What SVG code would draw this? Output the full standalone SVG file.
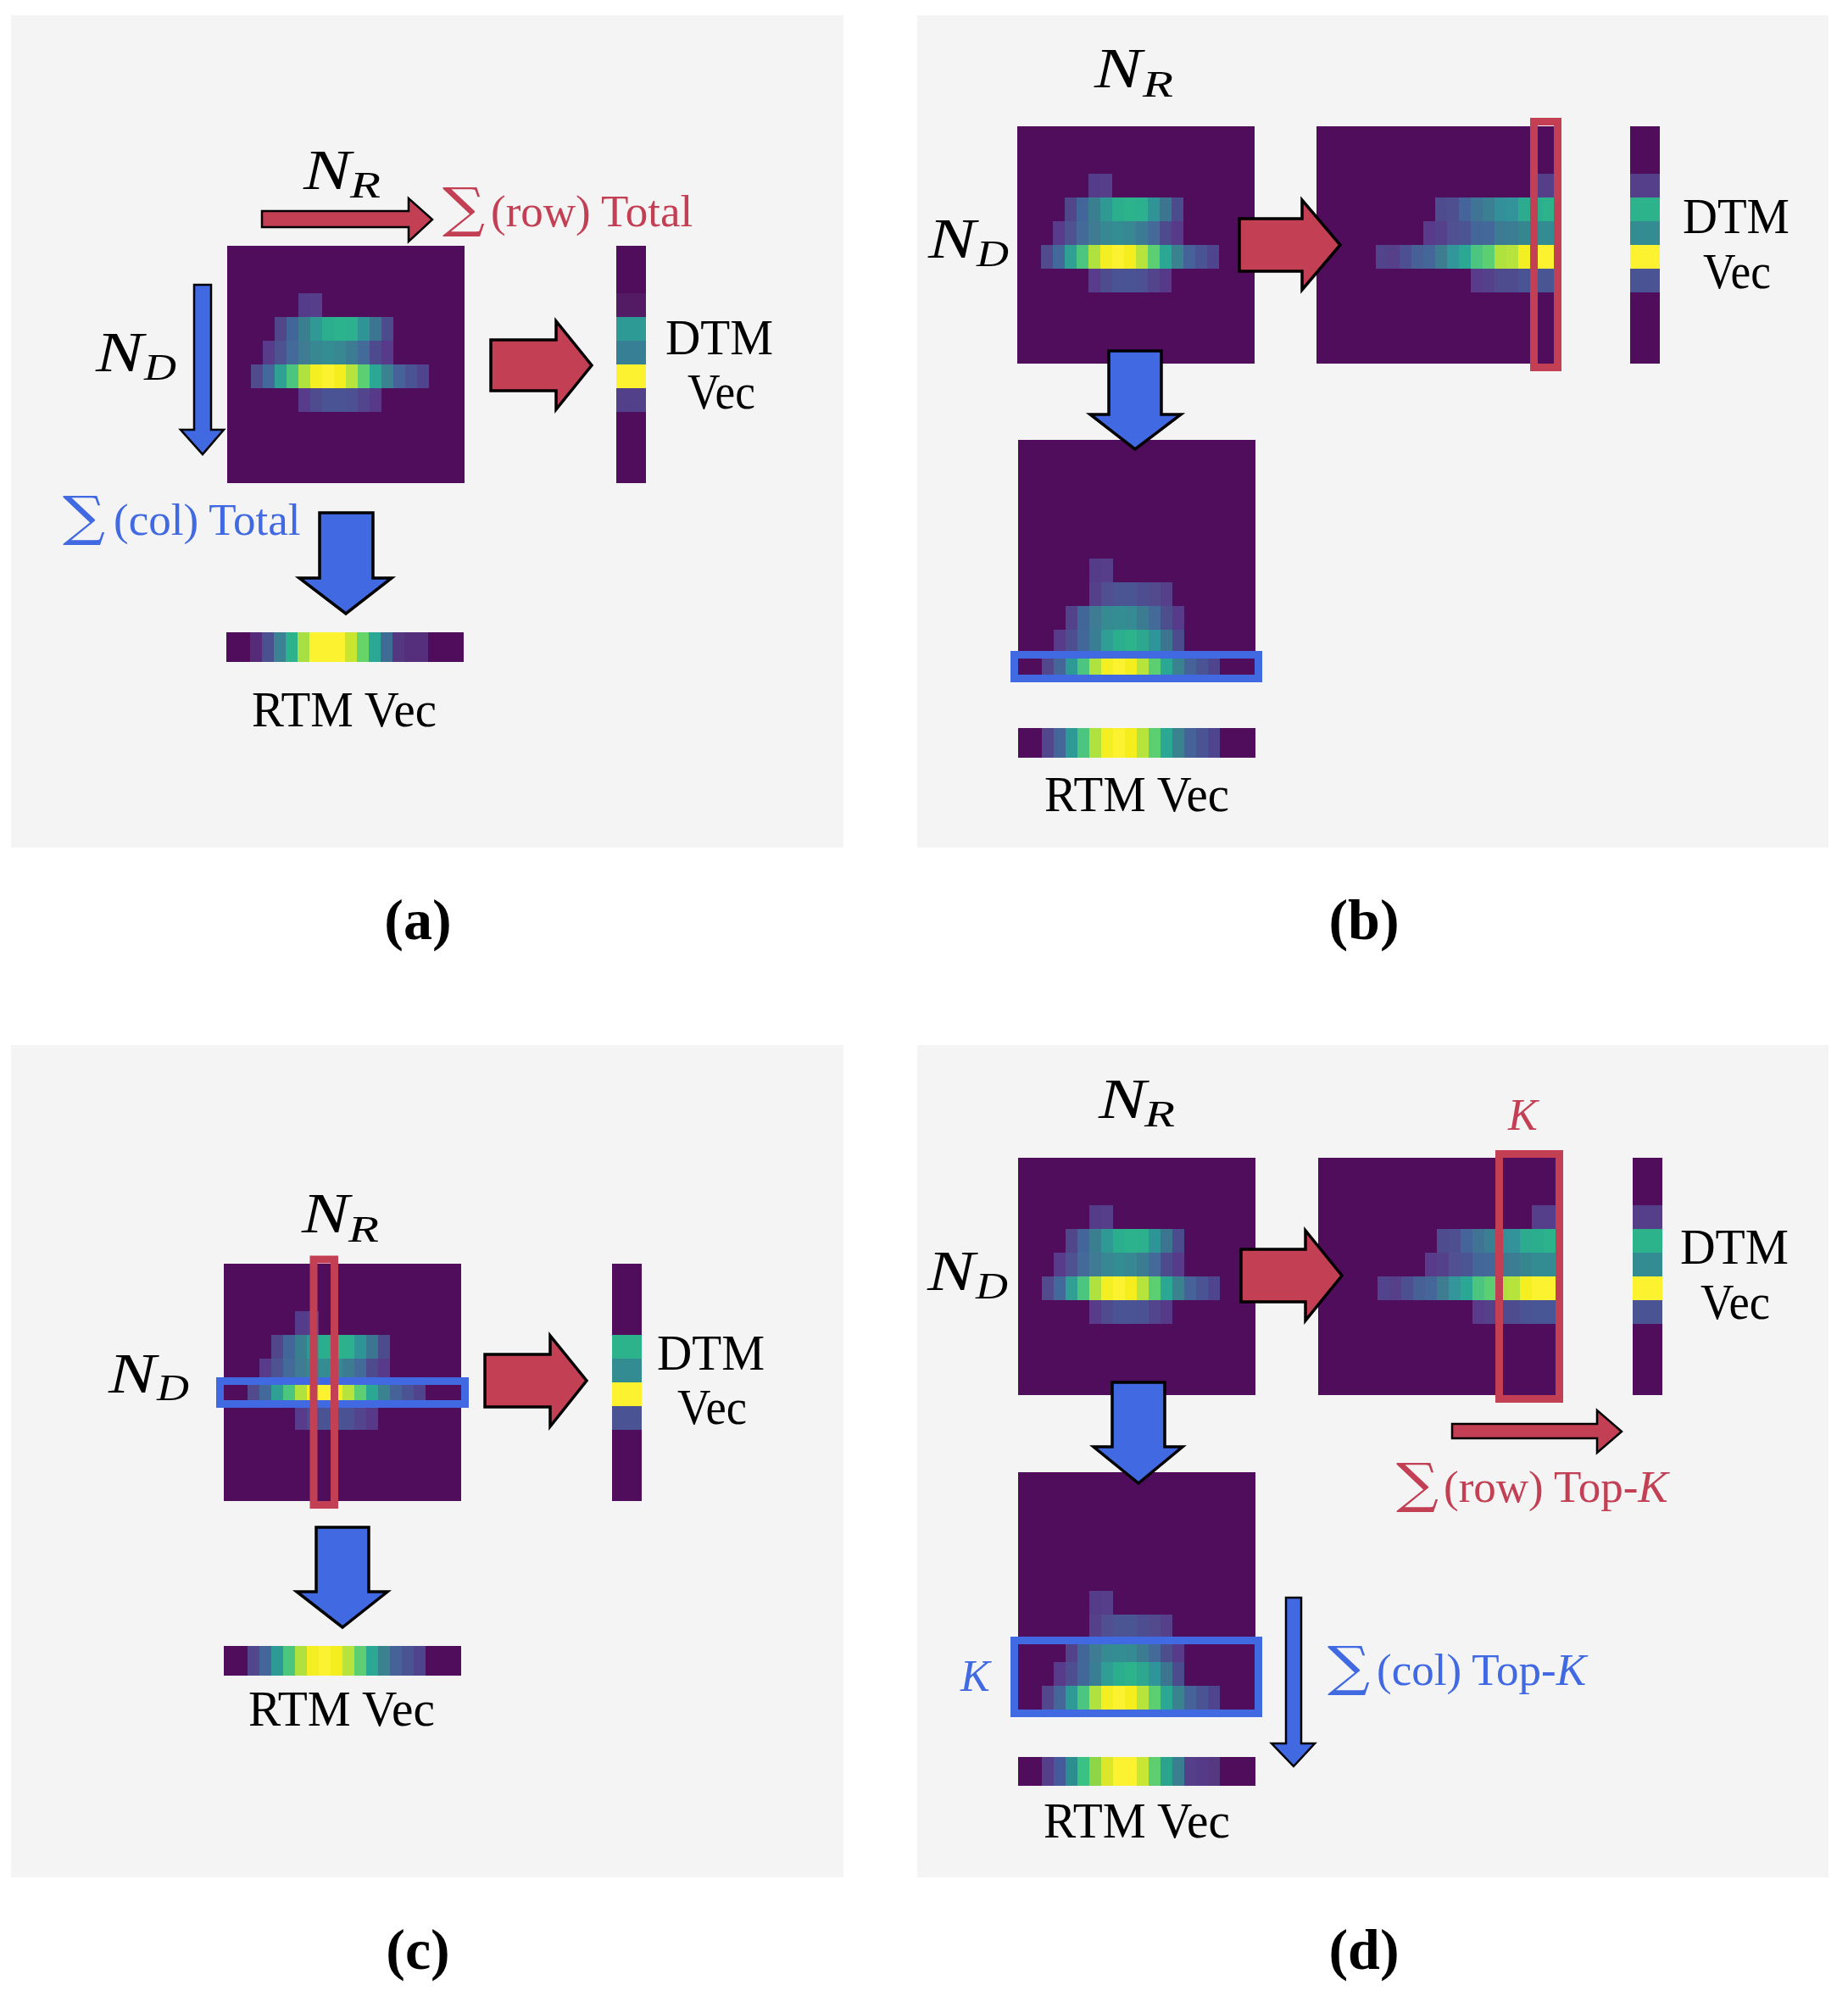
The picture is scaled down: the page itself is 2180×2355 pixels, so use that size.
<svg xmlns="http://www.w3.org/2000/svg" xmlns:xlink="http://www.w3.org/1999/xlink" width="2180" height="2355" viewBox="0 0 2180 2355">
<style>
.panel{fill:#f4f4f4}
.fr{fill:#c33f54;stroke:#000;stroke-width:3.5;stroke-linejoin:miter}
.fb{fill:#4169e1;stroke:#000;stroke-width:3.5;stroke-linejoin:miter}
.tr{fill:#c33f54;stroke:#000;stroke-width:2.5}
.tb{fill:#4169e1;stroke:#000;stroke-width:2.5}
.hr{fill:none;stroke:#c33f54;stroke-width:9}
.hb{fill:none;stroke:#4169e1;stroke-width:9}
.lbl{font-family:"Liberation Serif","Times New Roman",serif;font-size:59px;fill:#000}
.mi{font-family:"Liberation Serif","Times New Roman",serif;font-style:italic;fill:#000}
.op{font-family:"Liberation Serif","Times New Roman",serif;font-size:53px}
.sum{font-family:"DejaVu Serif",serif;font-size:64px}
.red{fill:#c33f54}
.blue{fill:#4169e1}
.cap{font-family:"Liberation Serif","Times New Roman",serif;font-weight:bold;font-size:68px;text-anchor:middle;fill:#000}
.bg{fill:#500d5c}
</style>
<defs>
<g id="hmA" shape-rendering="crispEdges">
<rect class="bg" width="280" height="280"/>
<rect x="84" y="56" width="14" height="28" fill="#553c8a"/><rect x="98" y="56" width="14" height="28" fill="#573e8b"/>
<rect x="56" y="84" width="14" height="28" fill="#52468a"/><rect x="70" y="84" width="14" height="28" fill="#42659a"/><rect x="84" y="84" width="14" height="28" fill="#3a7f8f"/><rect x="98" y="84" width="14" height="28" fill="#2f9a93"/><rect x="112" y="84" width="14" height="28" fill="#2aae8e"/><rect x="126" y="84" width="14" height="28" fill="#2db38c"/><rect x="140" y="84" width="14" height="28" fill="#2db08d"/><rect x="154" y="84" width="14" height="28" fill="#2f9495"/><rect x="168" y="84" width="14" height="28" fill="#3c7590"/><rect x="182" y="84" width="14" height="28" fill="#4b4c8e"/>
<rect x="42" y="112" width="14" height="28" fill="#583b8a"/><rect x="56" y="112" width="14" height="28" fill="#4e5290"/><rect x="70" y="112" width="14" height="28" fill="#446a9a"/><rect x="84" y="112" width="14" height="28" fill="#3f7c94"/><rect x="98" y="112" width="14" height="28" fill="#378893"/><rect x="112" y="112" width="14" height="28" fill="#348d93"/><rect x="126" y="112" width="14" height="28" fill="#378893"/><rect x="140" y="112" width="14" height="28" fill="#3c7c92"/><rect x="154" y="112" width="14" height="28" fill="#446a9a"/><rect x="168" y="112" width="14" height="28" fill="#4e4a8e"/><rect x="182" y="112" width="14" height="28" fill="#573a89"/>
<rect x="28" y="140" width="14" height="28" fill="#514a8c"/><rect x="42" y="140" width="14" height="28" fill="#43699b"/><rect x="56" y="140" width="14" height="28" fill="#31a094"/><rect x="70" y="140" width="14" height="28" fill="#4cc57e"/><rect x="84" y="140" width="14" height="28" fill="#b0e23f"/><rect x="98" y="140" width="14" height="28" fill="#f3ef22"/><rect x="112" y="140" width="14" height="28" fill="#fdf22f"/><rect x="126" y="140" width="14" height="28" fill="#f4ee1f"/><rect x="140" y="140" width="14" height="28" fill="#b6e43c"/><rect x="154" y="140" width="14" height="28" fill="#5ccf72"/><rect x="168" y="140" width="14" height="28" fill="#2aa893"/><rect x="182" y="140" width="14" height="28" fill="#3b8290"/><rect x="196" y="140" width="14" height="28" fill="#456399"/><rect x="210" y="140" width="14" height="28" fill="#4a5393"/><rect x="224" y="140" width="14" height="28" fill="#4f458e"/>
<rect x="84" y="168" width="14" height="28" fill="#583b8a"/><rect x="98" y="168" width="14" height="28" fill="#4f4b8f"/><rect x="112" y="168" width="14" height="28" fill="#4a5494"/><rect x="126" y="168" width="14" height="28" fill="#4a5494"/><rect x="140" y="168" width="14" height="28" fill="#4b5192"/><rect x="154" y="168" width="14" height="28" fill="#52458e"/><rect x="168" y="168" width="14" height="28" fill="#563a89"/>
</g>
<g id="hmB" shape-rendering="crispEdges">
<rect class="bg" width="280" height="280"/>
<rect x="252" y="56" width="14" height="28" fill="#553e8a"/><rect x="266" y="56" width="14" height="28" fill="#553e8a"/>
<rect x="140" y="84" width="14" height="28" fill="#4e4b8f"/><rect x="154" y="84" width="14" height="28" fill="#4e4f90"/><rect x="168" y="84" width="14" height="28" fill="#44649a"/><rect x="182" y="84" width="14" height="28" fill="#3f7494"/><rect x="196" y="84" width="14" height="28" fill="#3a7f92"/><rect x="210" y="84" width="14" height="28" fill="#33909a"/><rect x="224" y="84" width="14" height="28" fill="#33939a"/><rect x="238" y="84" width="14" height="28" fill="#2cab8e"/><rect x="252" y="84" width="14" height="28" fill="#2bae8e"/><rect x="266" y="84" width="14" height="28" fill="#2db38c"/>
<rect x="126" y="112" width="14" height="28" fill="#583b8a"/><rect x="140" y="112" width="14" height="28" fill="#55408b"/><rect x="154" y="112" width="14" height="28" fill="#505093"/><rect x="168" y="112" width="14" height="28" fill="#4b5594"/><rect x="182" y="112" width="14" height="28" fill="#44679a"/><rect x="196" y="112" width="14" height="28" fill="#44689a"/><rect x="210" y="112" width="14" height="28" fill="#3d7b92"/><rect x="224" y="112" width="14" height="28" fill="#3b7d92"/><rect x="238" y="112" width="14" height="28" fill="#36868f"/><rect x="252" y="112" width="14" height="28" fill="#338c92"/><rect x="266" y="112" width="14" height="28" fill="#338c92"/>
<rect x="70" y="140" width="14" height="28" fill="#52448c"/><rect x="84" y="140" width="14" height="28" fill="#554089"/><rect x="98" y="140" width="14" height="28" fill="#4c4f92"/><rect x="112" y="140" width="14" height="28" fill="#476196"/><rect x="126" y="140" width="14" height="28" fill="#446699"/><rect x="140" y="140" width="14" height="28" fill="#3d7c91"/><rect x="154" y="140" width="14" height="28" fill="#33969a"/><rect x="168" y="140" width="14" height="28" fill="#2aa893"/><rect x="182" y="140" width="14" height="28" fill="#4cc57e"/><rect x="196" y="140" width="14" height="28" fill="#5ccf72"/><rect x="210" y="140" width="14" height="28" fill="#b0e23f"/><rect x="224" y="140" width="14" height="28" fill="#b6e43c"/><rect x="238" y="140" width="14" height="28" fill="#f3ef22"/><rect x="252" y="140" width="14" height="28" fill="#fdf22f"/><rect x="266" y="140" width="14" height="28" fill="#fdf22f"/>
<rect x="182" y="168" width="14" height="28" fill="#583b8a"/><rect x="196" y="168" width="14" height="28" fill="#55408b"/><rect x="210" y="168" width="14" height="28" fill="#4f4b8f"/><rect x="224" y="168" width="14" height="28" fill="#4f4b8f"/><rect x="238" y="168" width="14" height="28" fill="#4a5494"/><rect x="252" y="168" width="14" height="28" fill="#495695"/><rect x="266" y="168" width="14" height="28" fill="#495695"/>
</g>
<g id="rowB" shape-rendering="crispEdges">
<rect x="28" width="14" height="28" fill="#52468c"/><rect x="42" width="14" height="28" fill="#446699"/><rect x="56" width="14" height="28" fill="#2e9a95"/><rect x="70" width="14" height="28" fill="#4cc57e"/><rect x="84" width="14" height="28" fill="#b0e23f"/><rect x="98" width="14" height="28" fill="#f3ef22"/><rect x="112" width="14" height="28" fill="#fdf22f"/><rect x="126" width="14" height="28" fill="#f4ee1f"/><rect x="140" width="14" height="28" fill="#b6e43c"/><rect x="154" width="14" height="28" fill="#5ccf72"/><rect x="168" width="14" height="28" fill="#2aa893"/><rect x="182" width="14" height="28" fill="#3b8290"/><rect x="196" width="14" height="28" fill="#456399"/><rect x="210" width="14" height="28" fill="#4a5393"/><rect x="224" width="14" height="28" fill="#4f458e"/>
</g>
<g id="hmC" shape-rendering="crispEdges">
<rect class="bg" width="280" height="280"/>
<rect x="84" y="140" width="14" height="28" fill="#553c8a"/><rect x="98" y="140" width="14" height="28" fill="#573e8b"/>
<rect x="84" y="168" width="14" height="28" fill="#55408b"/><rect x="98" y="168" width="14" height="28" fill="#4f4f91"/><rect x="112" y="168" width="14" height="28" fill="#4b5594"/><rect x="126" y="168" width="14" height="28" fill="#4b5594"/><rect x="140" y="168" width="14" height="28" fill="#4f4d91"/><rect x="154" y="168" width="14" height="28" fill="#534a8e"/><rect x="168" y="168" width="14" height="28" fill="#56408b"/>
<rect x="56" y="196" width="14" height="28" fill="#52428a"/><rect x="70" y="196" width="14" height="28" fill="#416799"/><rect x="84" y="196" width="14" height="28" fill="#3d7c92"/><rect x="98" y="196" width="14" height="28" fill="#368a92"/><rect x="112" y="196" width="14" height="28" fill="#338d93"/><rect x="126" y="196" width="14" height="28" fill="#358a93"/><rect x="140" y="196" width="14" height="28" fill="#3c7b92"/><rect x="154" y="196" width="14" height="28" fill="#446a9a"/><rect x="168" y="196" width="14" height="28" fill="#4d4e8e"/><rect x="182" y="196" width="14" height="28" fill="#573a89"/>
<rect x="42" y="224" width="14" height="28" fill="#583b8a"/><rect x="56" y="224" width="14" height="28" fill="#4e4f90"/><rect x="70" y="224" width="14" height="28" fill="#426799"/><rect x="84" y="224" width="14" height="28" fill="#397f93"/><rect x="98" y="224" width="14" height="28" fill="#2f9e94"/><rect x="112" y="224" width="14" height="28" fill="#2bae8e"/><rect x="126" y="224" width="14" height="28" fill="#2db38c"/><rect x="140" y="224" width="14" height="28" fill="#2da88e"/><rect x="154" y="224" width="14" height="28" fill="#30959a"/><rect x="168" y="224" width="14" height="28" fill="#3c7590"/><rect x="182" y="224" width="14" height="28" fill="#4b4c8e"/>
<use href="#rowB" y="252"/>
</g>
<g id="rtmB" shape-rendering="crispEdges">
<rect class="bg" width="280" height="35"/>
<use href="#rowB" transform="scale(1,1.25)"/>
</g>
<g id="dtmBD" shape-rendering="crispEdges">
<rect class="bg" width="35" height="280"/>
<rect y="56" width="35" height="28" fill="#553e8a"/><rect y="84" width="35" height="28" fill="#2db38c"/><rect y="112" width="35" height="28" fill="#338c92"/><rect y="140" width="35" height="28" fill="#fdf22f"/><rect y="168" width="35" height="28" fill="#4a5494"/>
</g>
</defs>

<rect width="2180" height="2355" fill="#ffffff"/>
<g id="panels">
<rect class="panel" x="13" y="18" width="982" height="982"/>
<rect class="panel" x="1082" y="18" width="1075" height="982"/>
<rect class="panel" x="13" y="1233" width="982" height="982"/>
<rect class="panel" x="1082" y="1233" width="1075" height="982"/>
</g>

<!-- Panel (a) -->
<g id="a-matrix"><use href="#hmA" x="268" y="290"/></g>
<g id="a-dtm" shape-rendering="crispEdges">
<rect class="bg" x="727" y="290" width="35" height="280"/>
<rect x="727" y="346" width="35" height="28" fill="#531b64"/><rect x="727" y="374" width="35" height="28" fill="#2e9a95"/><rect x="727" y="402" width="35" height="28" fill="#367f94"/><rect x="727" y="430" width="35" height="28" fill="#fdf22f"/><rect x="727" y="458" width="35" height="28" fill="#52408a"/>
</g>
<g id="a-rtm" shape-rendering="crispEdges">
<rect class="bg" x="267" y="746" width="280" height="35"/>
<rect x="295" y="746" width="14" height="35" fill="#552a78"/><rect x="309" y="746" width="14" height="35" fill="#4a5090"/><rect x="323" y="746" width="14" height="35" fill="#3a8294"/><rect x="337" y="746" width="14" height="35" fill="#2db38c"/><rect x="351" y="746" width="14" height="35" fill="#a8e043"/><rect x="365" y="746" width="42" height="35" fill="#fdf22f"/><rect x="407" y="746" width="14" height="35" fill="#c8e62f"/><rect x="421" y="746" width="14" height="35" fill="#67d46a"/><rect x="435" y="746" width="14" height="35" fill="#2aa893"/><rect x="449" y="746" width="14" height="35" fill="#3e6c95"/><rect x="463" y="746" width="14" height="35" fill="#553780"/><rect x="477" y="746" width="28" height="35" fill="#552e7c"/>
</g>
<g id="a-labels">
<text class="mi" x="358" y="223" font-size="68" textLength="56" lengthAdjust="spacingAndGlyphs">N</text><text class="mi" x="413" y="233" font-size="45" textLength="36" lengthAdjust="spacingAndGlyphs">R</text>
<text class="mi" x="113" y="438" font-size="68" textLength="56" lengthAdjust="spacingAndGlyphs">N</text><text class="mi" x="170" y="448" font-size="45" textLength="38" lengthAdjust="spacingAndGlyphs">D</text>
<text class="sum red" x="522" y="267" textLength="50" lengthAdjust="spacingAndGlyphs">∑</text><text class="op red" x="579" y="267">(row) Total</text>
<text class="sum blue" x="74" y="631" textLength="50" lengthAdjust="spacingAndGlyphs">∑</text><text class="op blue" x="134" y="631">(col) Total</text>
<text class="lbl" x="785" y="418" textLength="127" lengthAdjust="spacingAndGlyphs">DTM</text>
<text class="lbl" x="811" y="482" textLength="80" lengthAdjust="spacingAndGlyphs">Vec</text>
<text class="lbl" x="297" y="857" textLength="218" lengthAdjust="spacingAndGlyphs">RTM Vec</text>
<text class="cap" x="493" y="1108">(a)</text>
</g>

<!-- Panel (b) -->
<g id="b-matrix"><use href="#hmA" x="1200" y="149"/></g>
<g id="b-rowcum"><use href="#hmB" x="1553" y="149"/></g>
<g id="b-dtm"><use href="#dtmBD" x="1923" y="149"/></g>
<g id="b-colcum"><use href="#hmC" x="1201" y="519"/></g>
<g id="b-rtm"><use href="#rtmB" x="1201" y="859"/></g>
<g id="b-highlights">
<rect class="hr" x="1809.5" y="143.5" width="28" height="290"/>
<rect class="hb" x="1196.5" y="772.5" width="288" height="28"/>
</g>
<g id="b-labels">
<text class="mi" x="1291" y="103" font-size="68" textLength="56" lengthAdjust="spacingAndGlyphs">N</text><text class="mi" x="1348" y="114" font-size="45" textLength="36" lengthAdjust="spacingAndGlyphs">R</text>
<text class="mi" x="1095" y="304" font-size="68" textLength="56" lengthAdjust="spacingAndGlyphs">N</text><text class="mi" x="1152" y="314" font-size="45" textLength="38" lengthAdjust="spacingAndGlyphs">D</text>
<text class="lbl" x="1985" y="275" textLength="126" lengthAdjust="spacingAndGlyphs">DTM</text>
<text class="lbl" x="2009" y="340" textLength="80" lengthAdjust="spacingAndGlyphs">Vec</text>
<text class="lbl" x="1232" y="957" textLength="218" lengthAdjust="spacingAndGlyphs">RTM Vec</text>
<text class="cap" x="1609" y="1108">(b)</text>
</g>

<!-- Panel (c) -->
<g id="c-matrix"><use href="#hmA" x="264" y="1491"/></g>
<g id="c-dtm" shape-rendering="crispEdges">
<rect class="bg" x="722" y="1491" width="35" height="280"/>
<rect x="722" y="1575" width="35" height="28" fill="#2db38c"/><rect x="722" y="1603" width="35" height="28" fill="#338c92"/><rect x="722" y="1631" width="35" height="28" fill="#fdf22f"/><rect x="722" y="1659" width="35" height="28" fill="#4a5494"/>
</g>
<g id="c-rtm"><use href="#rtmB" x="264" y="1942"/></g>
<g id="c-highlights">
<rect class="hb" x="259.5" y="1629.5" width="289" height="27"/>
<rect class="hr" x="370" y="1486" width="24.5" height="289.5"/>
</g>
<g id="c-labels">
<text class="mi" x="356" y="1454" font-size="68" textLength="56" lengthAdjust="spacingAndGlyphs">N</text><text class="mi" x="411" y="1465" font-size="45" textLength="36" lengthAdjust="spacingAndGlyphs">R</text>
<text class="mi" x="128" y="1643" font-size="68" textLength="56" lengthAdjust="spacingAndGlyphs">N</text><text class="mi" x="185" y="1652" font-size="45" textLength="38" lengthAdjust="spacingAndGlyphs">D</text>
<text class="lbl" x="775" y="1616" textLength="127" lengthAdjust="spacingAndGlyphs">DTM</text>
<text class="lbl" x="799" y="1680" textLength="82" lengthAdjust="spacingAndGlyphs">Vec</text>
<text class="lbl" x="293" y="2036" textLength="220" lengthAdjust="spacingAndGlyphs">RTM Vec</text>
<text class="cap" x="493" y="2323">(c)</text>
</g>

<!-- Panel (d) -->
<g id="d-matrix"><use href="#hmA" x="1201" y="1366"/></g>
<g id="d-rowcum"><use href="#hmB" x="1555" y="1366"/></g>
<g id="d-dtm"><use href="#dtmBD" x="1926" y="1366"/></g>
<g id="d-colcum"><use href="#hmC" x="1201" y="1737"/></g>
<g id="d-rtm" shape-rendering="crispEdges">
<rect class="bg" x="1201" y="2073" width="280" height="34"/>
<rect x="1229" y="2073" width="14" height="34" fill="#553e8a"/><rect x="1243" y="2073" width="14" height="34" fill="#46599a"/><rect x="1257" y="2073" width="14" height="34" fill="#2d8e8f"/><rect x="1271" y="2073" width="14" height="34" fill="#3ac285"/><rect x="1285" y="2073" width="14" height="34" fill="#8ed645"/><rect x="1299" y="2073" width="14" height="34" fill="#dce72a"/><rect x="1313" y="2073" width="28" height="34" fill="#fdf22f"/><rect x="1341" y="2073" width="14" height="34" fill="#c8e634"/><rect x="1355" y="2073" width="14" height="34" fill="#5dcf71"/><rect x="1369" y="2073" width="14" height="34" fill="#2ba48e"/><rect x="1383" y="2073" width="14" height="34" fill="#3a7e92"/><rect x="1397" y="2073" width="14" height="34" fill="#553e8a"/><rect x="1411" y="2073" width="14" height="34" fill="#553a88"/><rect x="1425" y="2073" width="14" height="34" fill="#55387f"/>
</g>
<g id="d-highlights">
<rect class="hr" x="1768.5" y="1361.5" width="71" height="289"/>
<rect class="hb" x="1196.5" y="1935.5" width="288" height="86"/>
</g>
<g id="d-labels">
<text class="mi" x="1296" y="1319" font-size="68" textLength="56" lengthAdjust="spacingAndGlyphs">N</text><text class="mi" x="1350" y="1329" font-size="45" textLength="36" lengthAdjust="spacingAndGlyphs">R</text>
<text class="mi" x="1094" y="1522" font-size="68" textLength="56" lengthAdjust="spacingAndGlyphs">N</text><text class="mi" x="1151" y="1532" font-size="45" textLength="38" lengthAdjust="spacingAndGlyphs">D</text>
<text class="mi red" x="1779" y="1333" font-size="52">K</text>
<text class="mi blue" x="1133" y="1995" font-size="52">K</text>
<text class="sum red" x="1647" y="1772" textLength="50" lengthAdjust="spacingAndGlyphs">∑</text><text class="op red" x="1703" y="1772">(row) Top-<tspan font-style="italic">K</tspan></text>
<text class="sum blue" x="1566" y="1988" textLength="50" lengthAdjust="spacingAndGlyphs">∑</text><text class="op blue" x="1624" y="1988">(col) Top-<tspan font-style="italic">K</tspan></text>
<text class="lbl" x="1982" y="1491" textLength="128" lengthAdjust="spacingAndGlyphs">DTM</text>
<text class="lbl" x="2006" y="1556" textLength="82" lengthAdjust="spacingAndGlyphs">Vec</text>
<text class="lbl" x="1231" y="2168" textLength="220" lengthAdjust="spacingAndGlyphs">RTM Vec</text>
<text class="cap" x="1609" y="2323">(d)</text>
</g>

<g id="connectors">
<path class="tr" d="M309,249 H482 V234 L510,259 L482,285 V268 H309 Z"/>
<path class="tb" d="M229,336 V507 H213 L239,536 L264,507 H249 V336 Z"/>
<path class="fr" d="M579,401 H656 V379 L698,431 L656,483 V461 H579 Z"/>
<path class="fb" d="M377,605 V682 H353 L408,724 L462,682 H440 V605 Z"/>
<path class="fr" d="M1462,258 H1536 V236 L1581,289 L1536,342 V320 H1462 Z"/>
<path class="fb" d="M1308,414 V489 H1286 L1339,530 L1393,489 H1370 V414 Z"/>
<path class="fr" d="M572,1598 H649 V1576 L692,1629 L649,1683 V1660 H572 Z"/>
<path class="fb" d="M373,1802 V1878 H350 L404,1920 L457,1878 H435 V1802 Z"/>
<path class="fr" d="M1464,1474 H1540 V1452 L1583,1505 L1540,1558 V1536 H1464 Z"/>
<path class="fb" d="M1312,1631 V1707 H1290 L1343,1750 L1395,1707 H1374 V1631 Z"/>
<path class="tr" d="M1713,1680 H1884 V1664 L1913,1689 L1884,1714 V1697 H1713 Z"/>
<path class="tb" d="M1517,1885 V2057 H1500 L1526,2084 L1551,2057 H1535 V1885 Z"/>
</g>
</svg>
